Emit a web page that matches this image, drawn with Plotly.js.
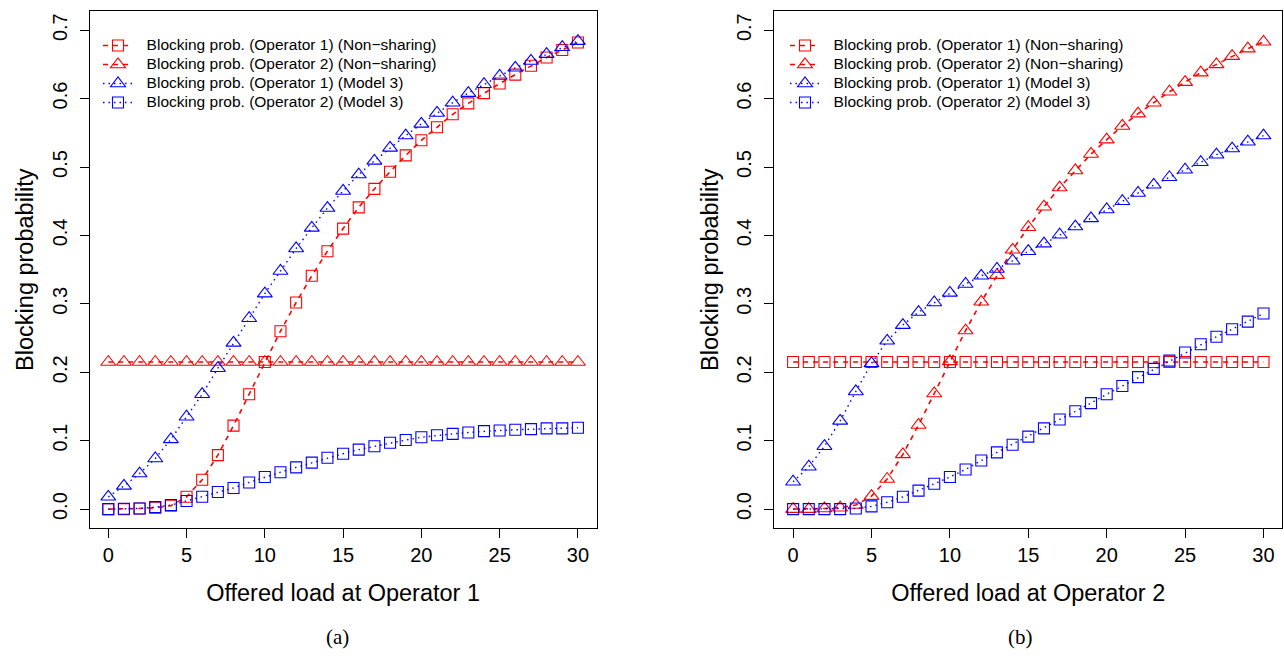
<!DOCTYPE html>
<html>
<head>
<meta charset="utf-8">
<script src="https://cdn.plot.ly/plotly-3.0.1.min.js"></script>
<style>html,body{margin:0;padding:0;background:#fff;}#chart{width:1284px;height:656px;}</style>
</head>
<body>
<div id="chart"></div>
<script>
// ---- data ----
const loads = [0,1,2,3,4,5,6,7,8,9,10,11,12,13,14,15,16,17,18,19,20,21,22,23,24,25,26,27,28,29,30];

// (a) offered load at Operator 1 varies
const a_op1_nonsharing = [0, 0, 0.001, 0.002, 0.005, 0.018, 0.043, 0.079, 0.122, 0.168, 0.215, 0.26, 0.302, 0.341, 0.377, 0.41, 0.441, 0.468, 0.493, 0.517, 0.539, 0.558, 0.577, 0.593, 0.608, 0.622, 0.635, 0.648, 0.66, 0.671, 0.682];
const a_op2_nonsharing = [0.215, 0.215, 0.215, 0.215, 0.215, 0.215, 0.215, 0.215, 0.215, 0.215, 0.215, 0.215, 0.215, 0.215, 0.215, 0.215, 0.215, 0.215, 0.215, 0.215, 0.215, 0.215, 0.215, 0.215, 0.215, 0.215, 0.215, 0.215, 0.215, 0.215, 0.215];
const a_op1_model3 = [0.018, 0.034, 0.052, 0.074, 0.102, 0.135, 0.168, 0.206, 0.243, 0.279, 0.315, 0.348, 0.381, 0.411, 0.44, 0.465, 0.489, 0.509, 0.528, 0.546, 0.563, 0.579, 0.594, 0.608, 0.621, 0.633, 0.645, 0.655, 0.665, 0.675, 0.684];
const a_op2_model3 = [0, 0.0005, 0.001, 0.003, 0.006, 0.012, 0.018, 0.025, 0.031, 0.039, 0.047, 0.054, 0.061, 0.068, 0.075, 0.081, 0.087, 0.092, 0.097, 0.101, 0.105, 0.108, 0.11, 0.112, 0.114, 0.115, 0.116, 0.117, 0.118, 0.118, 0.119];

// (b) offered load at Operator 2 varies
const b_op1_nonsharing = [0.215, 0.215, 0.215, 0.215, 0.215, 0.215, 0.215, 0.215, 0.215, 0.215, 0.215, 0.215, 0.215, 0.215, 0.215, 0.215, 0.215, 0.215, 0.215, 0.215, 0.215, 0.215, 0.215, 0.215, 0.215, 0.215, 0.215, 0.215, 0.215, 0.215, 0.215];
const b_op2_nonsharing = [0, 0, 0.001, 0.002, 0.006, 0.019, 0.044, 0.08, 0.123, 0.169, 0.216, 0.261, 0.303, 0.342, 0.379, 0.412, 0.442, 0.47, 0.495, 0.519, 0.54, 0.56, 0.578, 0.594, 0.61, 0.624, 0.638, 0.65, 0.662, 0.673, 0.683];
const b_op1_model3 = [0.04, 0.062, 0.092, 0.129, 0.172, 0.213, 0.246, 0.269, 0.288, 0.302, 0.316, 0.329, 0.341, 0.351, 0.363, 0.377, 0.388, 0.401, 0.413, 0.425, 0.438, 0.45, 0.462, 0.474, 0.485, 0.496, 0.507, 0.518, 0.527, 0.537, 0.546];
const b_op2_model3 = [0, 0, 0, 0, 0.001, 0.004, 0.01, 0.018, 0.027, 0.037, 0.047, 0.058, 0.071, 0.083, 0.094, 0.106, 0.118, 0.131, 0.143, 0.155, 0.168, 0.18, 0.193, 0.205, 0.217, 0.229, 0.241, 0.252, 0.263, 0.274, 0.286];

const legendLabels = [
  "Blocking prob. (Operator 1) (Non\u2212sharing)",
  "Blocking prob. (Operator 2) (Non\u2212sharing)",
  "Blocking prob. (Operator 1) (Model 3)",
  "Blocking prob. (Operator 2) (Model 3)"
];
const xTitles = ["Offered load at Operator 1", "Offered load at Operator 2"];
const yTitle = "Blocking probability";
const captions = ["(a)", "(b)"];
const yTicks = [0, 0.1, 0.2, 0.3, 0.4, 0.5, 0.6, 0.7];
const xTicks = [0, 5, 10, 15, 20, 25, 30];

// ---- styles ----
const RED = "#ff0000", BLUE = "#0000ff";
const SANS = "Liberation Sans, Arial, Helvetica, sans-serif";
const SERIF = "Liberation Serif, Times New Roman, serif";
const redDash = {color: RED, width: 1.6, dash: "5px,5px"};
const blueDot = {color: BLUE, width: 1.4, dash: "1.5px,4px"};
const sqMarker = c => ({symbol: "square-open", size: 11, color: c, line: {width: 1.1, color: c}});
const triMarker = c => ({symbol: "triangle-up-open", size: 13, color: c, line: {width: 1.1, color: c}});
const lbl = t => '<span style="font-size:15.5px">\u00a0\u00a0' + t + '</span>';

function panel(xa, ya, leg, s1, s2, s3, s4) {
  return [
    {x: loads, y: s1, xaxis: xa, yaxis: ya, legend: leg, name: lbl(legendLabels[0]), mode: "lines+markers", line: redDash, marker: sqMarker(RED)},
    {x: loads, y: s2, xaxis: xa, yaxis: ya, legend: leg, name: lbl(legendLabels[1]), mode: "lines+markers", line: redDash, marker: triMarker(RED)},
    {x: loads, y: s3, xaxis: xa, yaxis: ya, legend: leg, name: lbl(legendLabels[2]), mode: "lines+markers", line: blueDot, marker: triMarker(BLUE)},
    {x: loads, y: s4, xaxis: xa, yaxis: ya, legend: leg, name: lbl(legendLabels[3]), mode: "lines+markers", line: blueDot, marker: sqMarker(BLUE)}
  ];
}

const data = [].concat(
  panel("x", "y", "legend", a_op1_nonsharing, a_op2_nonsharing, a_op1_model3, a_op2_model3),
  panel("x2", "y2", "legend2", b_op1_nonsharing, b_op2_nonsharing, b_op1_model3, b_op2_model3)
);

const W = 1284, H = 656;
const yDom = [1 - 528.3 / H, 1 - 11 / H];

function xAxis(dom, title) {
  return {
    domain: dom, range: [-1.2, 31.2], tickvals: xTicks, ticktext: xTicks.map(String),
    ticks: "outside", ticklen: 9, tickwidth: 1, tickcolor: "#000",
    showline: true, mirror: true, linecolor: "#000", linewidth: 1,
    showgrid: false, zeroline: false,
    tickfont: {family: SANS, size: 20, color: "#000"},
    title: {text: title, font: {family: SANS, size: 23.5, color: "#000"}, standoff: 19},
    automargin: false, fixedrange: true
  };
}
function yAxis(anchor) {
  return {
    domain: yDom, anchor: anchor, range: [-0.028, 0.728], tickvals: yTicks, ticktext: yTicks.map(v => v.toFixed(1)),
    ticks: "outside", ticklen: 9, tickwidth: 1, tickcolor: "#000", tickangle: -90, ticklabelstandoff: 5,
    showline: true, mirror: true, linecolor: "#000", linewidth: 1,
    showgrid: false, zeroline: false,
    tickfont: {family: SANS, size: 20, color: "#000"},
    title: {text: yTitle, font: {family: SANS, size: 23.5, color: "#000"}, standoff: 8},
    automargin: false, fixedrange: true
  };
}

const legendBase = {
  font: {family: SANS, size: 12, color: "#000"},
  bgcolor: "rgba(0,0,0,0)", borderwidth: 0, xanchor: "left", yanchor: "top",
  itemwidth: 30, tracegroupgap: 0, itemclick: false, itemdoubleclick: false
};

const layout = {
  width: W, height: H,
  margin: {l: 0, r: 0, t: 0, b: 0},
  paper_bgcolor: "#fff", plot_bgcolor: "#fff",
  showlegend: true,
  xaxis: xAxis([89.5 / W, 596.7 / W], xTitles[0]),
  yaxis: yAxis("x"),
  xaxis2: xAxis([774.3 / W, 1282.3 / W], xTitles[1]),
  yaxis2: yAxis("x2"),
  legend: Object.assign({}, legendBase, {x: 98 / W, y: 1 - 31 / H}),
  legend2: Object.assign({}, legendBase, {x: 785 / W, y: 1 - 31 / H}),
  annotations: [
    {text: captions[0], xref: "paper", yref: "paper", x: 338 / W, y: 1 - 637 / H, xanchor: "center", yanchor: "middle", showarrow: false, font: {family: SERIF, size: 21, color: "#000"}},
    {text: captions[1], xref: "paper", yref: "paper", x: 1021 / W, y: 1 - 637 / H, xanchor: "center", yanchor: "middle", showarrow: false, font: {family: SERIF, size: 21, color: "#000"}}
  ]
};

Plotly.newPlot("chart", data, layout, {staticPlot: true, displayModeBar: false});
</script>
</body>
</html>
